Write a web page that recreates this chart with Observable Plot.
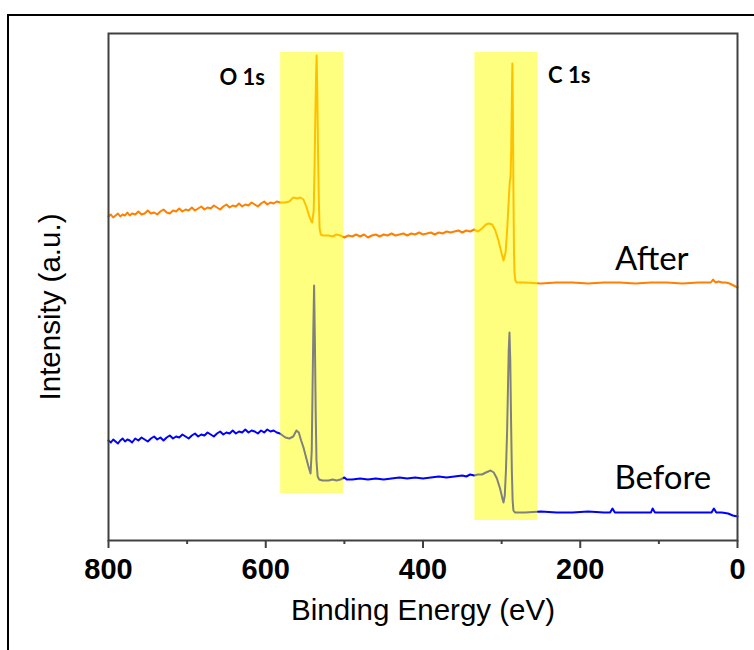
<!DOCTYPE html>
<html><head><meta charset="utf-8">
<script src="https://cdn.jsdelivr.net/npm/d3@7"></script>
<script src="https://cdn.jsdelivr.net/npm/@observablehq/plot@0.6"></script>
<style>
html,body{margin:0;padding:0;background:#fff;overflow:hidden;}
#wrap{position:relative;width:754px;height:650px;}
#chart{position:absolute;left:0;top:0;}
#border{position:absolute;left:7px;top:14px;width:800px;height:700px;border:2px solid #000;pointer-events:none;}
</style></head><body>
<div id="wrap"><div id="chart"></div><div id="border"></div></div>
<script>
// ---- Data (binding energy in eV, intensity in arbitrary units) ----
const afterEnergy = [800,797,794,791,788,785,782,779,776,773,770,766,762,758,754,750,746,742,738,734,730,726,722,718,714,710,706,702,698,694,690,686,682,678,674,670,666,662,658,654,650,646,642,638,634,630,626,622,618,614,610,606,602,598,594,590,586,582,
  575,570,565,560,556,552,548,545,542,541,539,538,537,536,535.3,534.5,533.5,532.5,531.5,530,527,
  520,515,510,505,500,495,490,485,480,475,470,465,460,455,450,445,440,435,430,425,420,415,410,405,400,395,390,385,380,375,370,365,360,355,350,345,340,335,330,
  325,320,316,312,308,304,300,297.6,295,293,291,289.5,288.7,287.8,287,286.3,285.6,285,284.3,283.6,282.5,281,278,
  270,250,230,210,190,170,150,130,110,90,70,50,40,34,31,28,24,20,15,10,5,0];
const afterIntensity = [324,326,323,325,327,324,326,325,328,325,327,326,329,326,327,330,327,328,326,329,331,328,327,330,329,332,329,331,330,333,330,332,334,331,333,332,335,333,331,334,336,333,335,334,337,334,336,335,338,336,334,337,339,336,338,337,339,338,
  338,339,343,342,343,341,333,325,319,318,330,370,420,465,485,450,390,340,312,306,305,
  305,304,306,305,303,305,304,306,304,306,303,305,306,304,306,305,307,305,306,307,305,307,306,308,306,307,308,306,308,307,309,308,309,310,308,310,309,311,309,
  312,316,317,316,310,300,287,280,288,310,340,360,363,390,440,477,420,350,290,267,260,258,258,
  258,257,258,258,257,258,258,257,258,258,257,258,258,258,261,258,259,258,258,257,255,253];

const beforeEnergy = [800,797,794,791,788,785,782,779,776,773,770,766,762,758,754,750,746,742,738,734,730,726,722,718,714,710,706,702,698,694,690,686,682,678,674,670,666,662,658,654,650,646,642,638,634,630,626,622,618,614,610,606,602,598,594,590,586,582,
  575,570,565,561,558,555,552,549,546,543,541.5,540.5,539.5,538.5,537.5,536.5,535.5,534,532,528,520,515,510,505,500,497,
  490,480,470,460,450,440,430,420,410,400,390,380,370,360,350,345,340,335,330,
  325,320,314,310,306,302,299,297.6,296,294.5,293,292,291,290,289,288,287,286,285,283,280,
  270,250,230,210,190,170,162,159,156,140,120,110,108,105,80,60,40,33,30,27,20,12,6,0];
const beforeIntensity = [100,98,101,99,97,100,102,99,101,100,98,102,100,103,101,99,102,104,101,103,100,103,105,102,104,103,106,104,102,105,107,104,106,105,108,106,104,107,109,106,108,107,110,107,109,108,111,108,110,109,107,110,108,111,109,110,108,107,
  103,102,104,110,108,100,93,84,75,67,90,150,210,255,200,130,80,64,61,60,60,61,60,61,63,61,
  61,62,61,62,61,62,63,62,63,62,63,64,63,64,65,64,66,65,66,
  66,68,70,68,62,52,42,38,45,70,110,150,190,208,180,120,70,40,30,28,28,
  28,29,28,28,29,28,28,32,28,28,28,28,32,28,28,28,28,28,32,28,28,27,25,24];

const bandStart = [581, 334];   // eV
const bandEnd   = [501, 254];   // eV
const bandLow   = [47, 20];     // a.u.
const bandHigh  = [488, 488];   // a.u.

const peakNames = ["O 1s", "C 1s"];
const peakLabelEnergy = [630, 214];
const peakLabelIntensity = [463, 465];

const sampleNames = ["After", "Before"];
const sampleLabelEnergy = [109, 95];
const sampleLabelIntensity = [281, 62];

const majorTicks = [800, 600, 400, 200, 0];
const minorTicks = [700, 500, 300, 100];
const xTitle = "Binding Energy (eV)";
const yTitle = "Intensity (a.u.)";

// ---- Build tables ----
const after = afterEnergy.map((e, i) => ({energy: e, intensity: afterIntensity[i]}));
const before = beforeEnergy.map((e, i) => ({energy: e, intensity: beforeIntensity[i]}));
const bands = bandStart.map((s, i) => ({e1: s, e2: bandEnd[i], i1: bandLow[i], i2: bandHigh[i]}));
const peaks = peakNames.map((n, i) => ({label: n, energy: peakLabelEnergy[i], intensity: peakLabelIntensity[i]}));
const samples = sampleNames.map((n, i) => ({label: n, energy: sampleLabelEnergy[i], intensity: sampleLabelIntensity[i]}));

const chart = Plot.plot({
  width: 754, height: 650,
  marginLeft: 108, marginRight: 17, marginTop: 33, marginBottom: 110,
  style: {background: "transparent", fontFamily: "'Liberation Sans', Arial, sans-serif", color: "#000"},
  x: {domain: [800, 0], label: null},
  y: {domain: [0, 507], axis: null},
  marks: [
    Plot.line(before, {x: "energy", y: "intensity", stroke: "#0000ff", strokeWidth: 2}),
    Plot.line(after, {x: "energy", y: "intensity", stroke: "#ff8000", strokeWidth: 2}),
    Plot.rect(bands, {x1: "e1", x2: "e2", y1: "i1", y2: "i2", fill: "#ffff00", fillOpacity: 0.5}),
    Plot.axisX({ticks: majorTicks, tickSize: 8, tickPadding: 10, tickFormat: d => String(d), fontSize: 29, fontWeight: "bold", label: null, stroke: "#404040", strokeWidth: 2, fill: "#000"}),
    Plot.axisX({ticks: minorTicks, tickSize: 4, tickFormat: () => "", label: null, stroke: "#404040", strokeWidth: 2}),
    Plot.frame({stroke: "#404040", strokeWidth: 2}),
    Plot.text(peaks, {x: "energy", y: "intensity", text: "label", fontFamily: "Lato", fontWeight: "bold", fontSize: 22, fill: "#000"}),
    Plot.text(samples, {x: "energy", y: "intensity", text: "label", fontFamily: "Lato", fontSize: 33, fill: "#000"}),
    Plot.text([xTitle], {text: d => d, frameAnchor: "bottom", dy: 79, fontSize: 29.5, fill: "#000"}),
    Plot.text([yTitle], {text: d => d, frameAnchor: "left", textAnchor: "middle", dx: -58, dy: 20, rotate: -90, fontSize: 29.5, fill: "#000"})
  ]
});
document.getElementById("chart").appendChild(chart);
</script>
</body></html>
